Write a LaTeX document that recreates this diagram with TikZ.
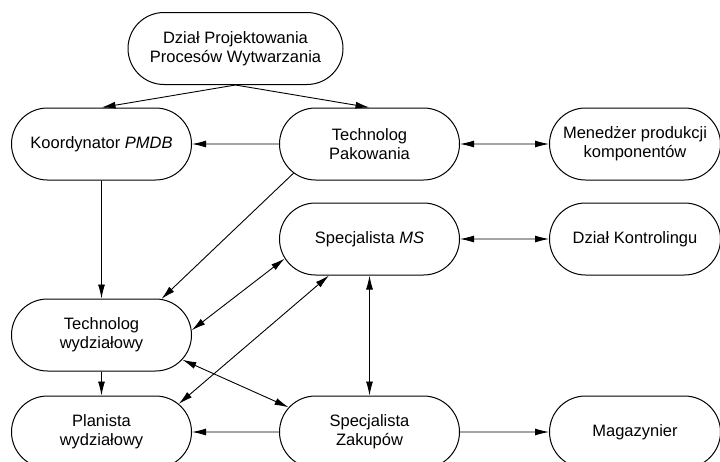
\documentclass[tikz,border=0pt]{standalone}
\usepackage{fontspec}
\setmainfont{Liberation Sans}
\usepackage{tikz}
\usetikzlibrary{
        arrows.meta,
        positioning,
        shapes
    }
\tikzset{>={Latex[length=14pt,width=7pt]},node distance=2cm}
\tikzset{unit/.style={rounded rectangle,draw,line width=1pt,minimum width=100pt,
    minimum height=72pt,inner xsep=-40pt,align=center,
    font=\fontsize{16.5}{19}\selectfont}}
\tikzset{narrow/.style={minimum width=91pt},wide/.style={minimum width=135pt}}

\begin{document}
\begin{tikzpicture}[x=1pt,y=1pt]
                    \useasboundingbox (0,0) rectangle (720,-461);
                    \node[unit,wide] (dzial) at (235.5,-48.5) {Dział Projektowania\\Procesów Wytwarzania};
                    \node[unit] (koord) at (101.5,-144) {Koordynator \textit{PMDB}};
                    \node[unit] (techpak) [right=87pt of koord] {Technolog\\Pakowania};
                    \node[unit,narrow] (menedzer) [right=89pt of techpak] {Menedżer produkcji\\komponentów};
                    \node[unit] (specms) [below=22pt of techpak] {Specjalista \textit{MS}};
                    \node[unit,narrow] (kontrol) [right=89pt of specms] {Dział Kontrolingu};
                    \node[unit] (techwyd) [below=118pt of koord] {Technolog\\wydziałowy};
                    \node[unit] (planista) [below=24pt of techwyd] {Planista\\wydziałowy};
                    \node[unit] (speczak) [right=87pt of planista] {Specjalista\\Zakupów};
                    \node[unit,narrow] (magazyn) [right=89pt of speczak] {Magazynier};
                    \path[->,line width=0.9pt]
                        (dzial.south) edge (koord.north)
                        (dzial.south) edge (techpak.north)
                        (techpak) edge (koord)
                        (koord) edge (techwyd)
                        (techpak.201) edge (techwyd.31)
                        (techwyd) edge (planista)
                        (speczak) edge (planista)
                        (speczak) edge (magazyn);
                    \path[<->,line width=0.9pt]
                        (techpak) edge (menedzer)
                        (specms) edge (kontrol)
                        (techwyd.3) edge (specms.193)
                        (planista.20) edge (specms.222)
                        (techwyd.343) edge (speczak.163)
                        (specms) edge (speczak);
                \end{tikzpicture}
\end{document}
